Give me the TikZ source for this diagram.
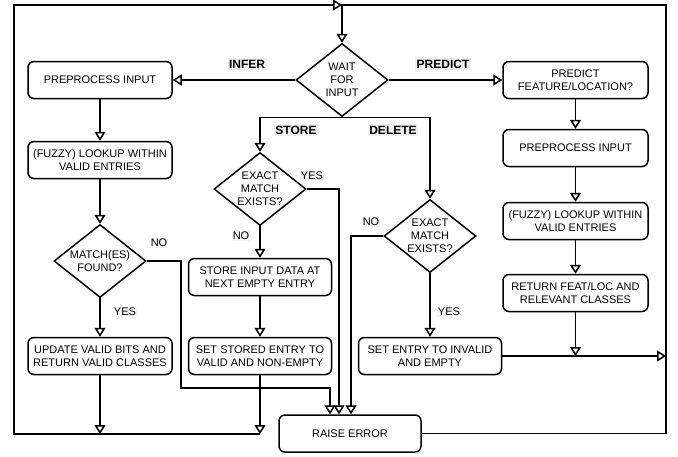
\documentclass[tikz,border=0pt]{standalone}
\usepackage{fontspec}
\setmainfont{Liberation Sans}
\usepackage{tikz}
\usetikzlibrary{shapes}
\usetikzlibrary{arrows.meta}

\begin{document}
\begin{tikzpicture}[x=1pt,y=1pt,yscale=-1,xscale=1,line width=1.5pt,
  box/.style={draw, rounded corners=6pt, minimum width=144pt, minimum height=37pt, inner sep=1pt, align=center, font=\fontsize{11}{13}\selectfont},
  dec/.style={draw, diamond, aspect=1.26, inner sep=0pt, minimum width=92pt, minimum height=73pt, align=center, font=\fontsize{11}{13}\selectfont},
  lbl/.style={fill=gray!12, inner sep=1.5pt, font=\fontsize{12}{14}\selectfont\bfseries},
  yn/.style={fill=gray!8, inner sep=1pt, font=\fontsize{11}{13}\selectfont},
  arr/.style={-{Triangle[open, length=9pt, width=11pt]}}]
\useasboundingbox (0,0) rectangle (678,456);

%Shape: Diamond
\node [dec] (wait) at (342,80) {WAIT\\FOR\\INPUT};
%Shape: Rectangle
\node [box] (ppL) at (100,80) {PREPROCESS INPUT};
\node [box] (lookL) at (100,160) {(FUZZY) LOOKUP WITHIN\\VALID ENTRIES};
%Shape: Diamond
\node [dec] (matchL) at (100,261) {MATCH(ES)\\FOUND?};
%Shape: Rectangle
\node [box] (updL) at (100,356) {UPDATE VALID BITS AND\\RETURN VALID CLASSES};
%Shape: Diamond
\node [dec] (store) at (260,189) {EXACT\\MATCH\\EXISTS?};
%Shape: Rectangle
\node [box, minimum width=143pt] (storeIn) at (260,277) {STORE INPUT DATA AT\\NEXT EMPTY ENTRY};
\node [box, minimum width=143pt] (setStored) at (260,356) {SET STORED ENTRY TO\\VALID AND NON-EMPTY};
%Shape: Diamond
\node [dec] (del) at (430,236) {EXACT\\MATCH\\EXISTS?};
%Shape: Rectangle
\node [box, minimum width=143pt] (setEntry) at (430,356) {SET ENTRY TO INVALID\\AND EMPTY};
\node [box, minimum width=145pt] (pred) at (575.5,80) {PREDICT\\FEATURE/LOCATION?};
\node [box, minimum width=145pt] (ppR) at (575.5,148) {PREPROCESS INPUT};
\node [box, minimum width=145pt] (lookR) at (575.5,221) {(FUZZY) LOOKUP WITHIN\\VALID ENTRIES};
\node [box, minimum width=145pt] (retR) at (575.5,293) {RETURN FEAT/LOC AND\\RELEVANT CLASSES};
\node [box, minimum width=142pt] (err) at (350,433.5) {RAISE ERROR};

%Corners of the loops
\coordinate (loopTL) at (14,5);
\coordinate (loopBL) at (14,434);
\coordinate (loopTR) at (666,5);
\coordinate (loopBR) at (666,434);
\coordinate (noBend) at (181,388);

%Straight Lines
\draw [arr] (wait.west) -- (ppL.east);
\draw [arr] (wait.east) -- (pred.west);
\draw [arr] (wait.south) -| (store.north);
\draw [arr] (wait.south) -| (del.north);
\draw [arr] (ppL) -- (lookL);
\draw [arr] (lookL) -- (matchL);
\draw [arr] (matchL) -- (updL);
\draw [arr] (matchL.east) -| (noBend) -| ([xshift=-20pt]err.north);
\draw [arr] (store) -- (storeIn);
\draw [arr] (storeIn) -- (setStored);
\draw [arr] (store.east) -| ([xshift=-11pt]err.north);
\draw [arr] (del.west) -| ([xshift=1pt]err.north);
\draw [arr] (del) -- (setEntry);
\draw [arr] (pred) -- (ppR);
\draw [arr] (ppR) -- (lookR);
\draw [arr] (lookR) -- (retR);
\draw [arr] (retR.south) -- (retR.south |- setEntry.east);
\draw [arr] (setEntry.east) -- (setEntry.east -| loopBR);
%Left loop
\draw [arr] (updL.south) -- (updL.south |- loopBL);
\draw [arr] (setStored.south) -- (setStored.south |- loopBL);
\draw [arr] (setStored.south |- loopBL) -- (loopBL) -- (loopTL) -- (wait.north |- loopTL);
%Right loop
\draw [arr] (err.east) -- (err.east -| loopBR) -- (loopTR) -- (wait.north |- loopTR) -- (wait.north);

% Text Node
\node [lbl] (tInfer) at (247,64) {INFER};
\node [lbl] (tPredict) at (443,64) {PREDICT};
\node [lbl] (tStore) at (296,130) {STORE};
\node [lbl] (tDelete) at (393,130) {DELETE};
\node [yn] (tYesS) at (312,176) {YES};
\node [yn] (tNoS) at (241,236) {NO};
\node [yn] (tNoD) at (371,222) {NO};
\node [yn] (tYesD) at (449,312) {YES};
\node [yn] (tNoM) at (159,243) {NO};
\node [yn] (tYesM) at (125,312) {YES};

\end{tikzpicture}
\end{document}
